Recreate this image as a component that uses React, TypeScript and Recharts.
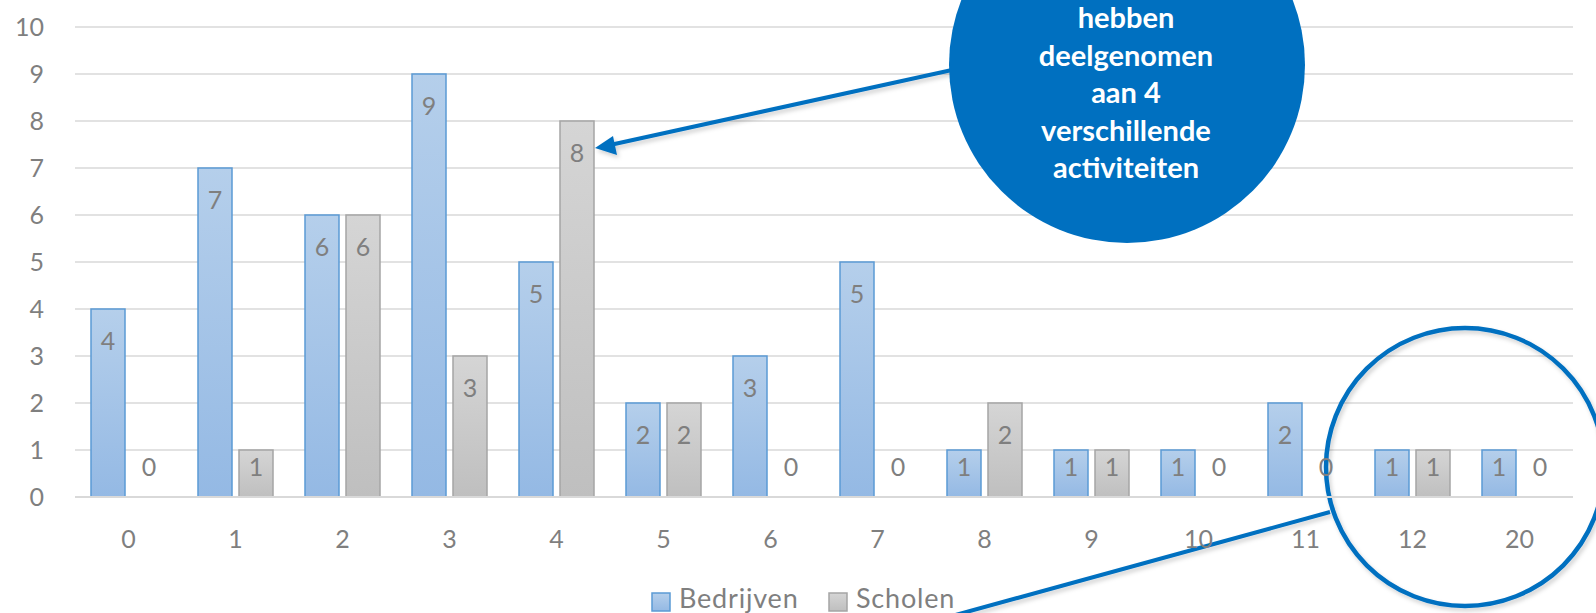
import React from 'react';
import { BarChart, Bar, XAxis, YAxis, CartesianGrid, Legend, Customized, LabelList, Cell } from 'recharts';

const categories = ['0', '1', '2', '3', '4', '5', '6', '7', '8', '9', '10', '11', '12', '20'];
const bedrijven = [4, 7, 6, 9, 5, 2, 3, 5, 1, 1, 1, 2, 1, 1];
const scholen = [0, 1, 6, 3, 8, 2, 0, 0, 2, 1, 0, 0, 1, 0];
const yTicks = [0, 1, 2, 3, 4, 5, 6, 7, 8, 9, 10];
const seriesNames = ['Bedrijven', 'Scholen'];
const calloutLines = ['hebben', 'deelgenomen', 'aan 4', 'verschillende', 'activiteiten'];

const data = categories.map((c, i) => ({ cat: c, Bedrijven: bedrijven[i], Scholen: scholen[i] }));

const FONT = 'Lato, "Open Sans", sans-serif';
const TEXT = '#7f7f7f';
const ACCENT = '#0070C0';

const ValueLabel = (props: any) => {
  const { x, y, width, height, value } = props;
  const cx = Number(x) + Number(width) / 2;
  const top = Number(y);
  const h = Number(height) || 0;
  const bottom = Math.max(top, top + h);
  const upper = Math.min(top, top + h);
  const cy = Math.min(upper + 32, bottom - 30);
  return (
    <text x={cx} y={cy + 9} textAnchor="middle" fill={TEXT} fontSize={25} fontFamily={FONT}>
      {value}
    </text>
  );
};

const zeroMin = (value: any) => (Number(value) === 0 ? 1 : 0);

const Annotations = () => (
  <g>
    <defs>
      <linearGradient id="gBlue" x1="0" y1="0" x2="0" y2="1">
        <stop offset="0%" stopColor="#b5cfeb" />
        <stop offset="100%" stopColor="#94b9e4" />
      </linearGradient>
      <linearGradient id="gGray" x1="0" y1="0" x2="0" y2="1">
        <stop offset="0%" stopColor="#d5d5d5" />
        <stop offset="100%" stopColor="#bfbfbf" />
      </linearGradient>
      <filter id="shadow" x="-20%" y="-20%" width="140%" height="140%">
        <feDropShadow dx="2" dy="3" stdDeviation="2" floodColor="#000" floodOpacity="0.18" />
      </filter>
    </defs>
    <g filter="url(#shadow)">
      <line x1={952} y1={70} x2={610} y2={145} stroke={ACCENT} strokeWidth={4} />
      <polygon points="595,148 613,136 617,155" fill={ACCENT} />
    </g>
    <circle cx={1127} cy={65} r={178} fill={ACCENT} />
    {calloutLines.map((t, i) => (
      <text
        key={t}
        x={1126}
        y={28 + i * 37.6}
        textAnchor="middle"
        fill="#ffffff"
        fontSize={29}
        fontWeight={700}
        fontFamily={FONT}
      >
        {t}
      </text>
    ))}
    <g filter="url(#shadow)">
      <line x1={1330} y1={512} x2={930} y2={622} stroke={ACCENT} strokeWidth={4} />
      <circle cx={1465} cy={467} r={139} fill="none" stroke={ACCENT} strokeWidth={4.5} />
    </g>
  </g>
);

const LegendContent = () => (
  <svg width={330} height={30} style={{ display: 'block', overflow: 'visible' }}>
    <defs>
      <linearGradient id="lgBlue" x1="0" y1="0" x2="0" y2="1">
        <stop offset="0%" stopColor="#b5cfeb" />
        <stop offset="100%" stopColor="#94b9e4" />
      </linearGradient>
      <linearGradient id="lgGray" x1="0" y1="0" x2="0" y2="1">
        <stop offset="0%" stopColor="#d5d5d5" />
        <stop offset="100%" stopColor="#bfbfbf" />
      </linearGradient>
    </defs>
    <rect x={2} y={8} width={18} height={18} fill="url(#lgBlue)" stroke="#5b9bd5" strokeWidth={1.5} />
    <text x={29} y={23} fill={TEXT} fontSize={27} fontFamily={FONT} letterSpacing={0.8}>
      {seriesNames[0]}
    </text>
    <rect x={179} y={8} width={18} height={18} fill="url(#lgGray)" stroke="#a5a5a5" strokeWidth={1.5} />
    <text x={206} y={23} fill={TEXT} fontSize={27} fontFamily={FONT} letterSpacing={0.8}>
      {seriesNames[1]}
    </text>
  </svg>
);

export default function App() {
  return (
    <div style={{ position: 'absolute', left: 0, top: 0, width: 1596, height: 613, overflow: 'hidden', background: '#fff' }}>
      <BarChart
        width={1596}
        height={613}
        data={data}
        margin={{ top: 27, right: 23, left: 0, bottom: 0 }}
        barSize={34}
        barGap={7}
      >
        <CartesianGrid vertical={false} stroke="#d9d9d9" strokeWidth={1.6} />
        <XAxis
          dataKey="cat"
          height={116}
          axisLine={{ stroke: '#d9d9d9', strokeWidth: 1.8 }}
          tickLine={false}
          tickSize={0}
          tickMargin={33}
          tick={{ fill: TEXT, fontSize: 25, fontFamily: FONT }}
          interval={0}
        />
        <YAxis
          width={75}
          domain={[0, 10]}
          ticks={yTicks}
          interval={0}
          axisLine={false}
          tickLine={false}
          tickSize={0}
          tickMargin={31}
          tick={{ fill: TEXT, fontSize: 25, fontFamily: FONT }}
        />
        <Legend
          verticalAlign="middle"
          align="center"
          layout="horizontal"
          wrapperStyle={{ top: 585, left: 650, width: 330, height: 30 }}
          content={<LegendContent />}
        />
        <Bar
          dataKey="Bedrijven"
          name={seriesNames[0]}
          fill="url(#gBlue)"
          stroke="#5b9bd5"
          strokeWidth={1.5}
          minPointSize={zeroMin as any}
          isAnimationActive={false}
        >
          {bedrijven.map((v, i) => (
            <Cell key={i} fill={v === 0 ? 'transparent' : 'url(#gBlue)'} stroke={v === 0 ? 'transparent' : '#5b9bd5'} />
          ))}
          <LabelList dataKey="Bedrijven" content={<ValueLabel />} />
        </Bar>
        <Bar
          dataKey="Scholen"
          name={seriesNames[1]}
          fill="url(#gGray)"
          stroke="#a5a5a5"
          strokeWidth={1.5}
          minPointSize={zeroMin as any}
          isAnimationActive={false}
        >
          {scholen.map((v, i) => (
            <Cell key={i} fill={v === 0 ? 'transparent' : 'url(#gGray)'} stroke={v === 0 ? 'transparent' : '#a5a5a5'} />
          ))}
          <LabelList dataKey="Scholen" content={<ValueLabel />} />
        </Bar>
        <Customized component={<Annotations />} />
      </BarChart>
    </div>
  );
}
